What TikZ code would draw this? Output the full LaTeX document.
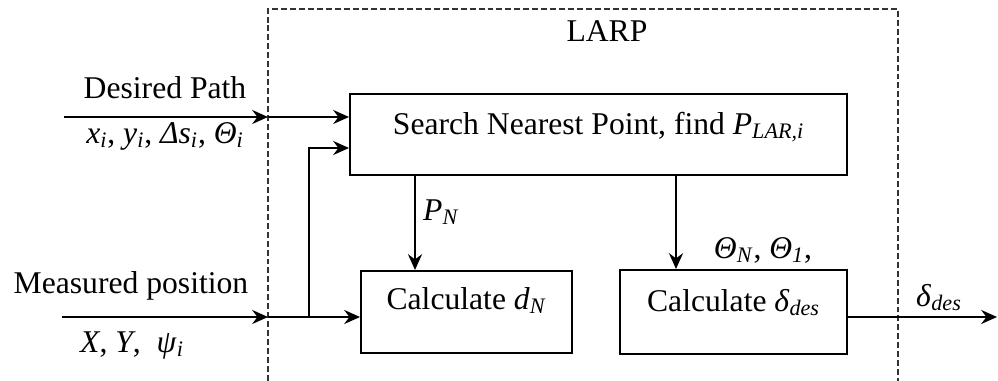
\documentclass[tikz,border=0pt]{standalone}
\usepackage{fontspec}
\setmainfont{Liberation Serif}
\usetikzlibrary{arrows.meta}
\newcommand{\vsub}[2]{\textit{#1}\textsubscript{\textit{#2}}}

\begin{document}
\begin{tikzpicture}[>={Stealth[length=9pt,width=8pt,inset=3pt]},line width=1.35pt,
 font=\fontsize{18}{22}\selectfont,
 blk/.style={draw,line width=1.2pt,inner xsep=0pt,inner ysep=0pt,anchor=north west},
 txt/.style={inner sep=0pt,anchor=base},
 larpbox/.style={draw=black!80,line width=0.6pt,dash pattern=on 3.4pt off 1.7pt}]
\useasboundingbox (0,0) rectangle (19.96,-7.62);
% LARP frame (open at the bottom)
\draw[larpbox] (5.36,-7.62) |- (17.96,-0.18) -- (17.96,-7.62);
\node[txt] (larp) at (12.14,-0.82) {LARP};
% blocks
\node[blk,minimum width=9.94cm,text height=0.8cm,text depth=0.82cm] (search) at (6.98,-1.86)
 {Search Nearest Point, find \vsub{P}{LAR,i}};
\node[blk,minimum width=4.22cm,text height=0.76cm,text depth=0.88cm] (calcd) at (7.2,-5.4)
 {Calculate \vsub{d}{N}};
\node[blk,minimum width=4.54cm,text height=0.82cm,text depth=0.86cm] (calcdes) at (12.38,-5.38)
 {Calculate \vsub{δ}{des}};
% inputs and outputs
\coordinate (dpin) at (1.28,-2.34);
\coordinate (dpb) at (5.36,-2.34);
\coordinate (mpin) at (1.24,-6.34);
\coordinate (mpb) at (5.36,-6.34);
\coordinate (jn) at (6.18,-6.34);
\coordinate (fb) at (6.18,-2.96);
\coordinate (out) at (19.94,-6.34);
\coordinate (pncol) at (8.3,0);
\coordinate (thcol) at (13.52,0);
\node[txt] (dplab) at (3.3,-1.96) {Desired Path};
\node[txt] (dpvar) at (3.3,-2.86) {\vsub{x}{i}, \vsub{y}{i}, \vsub{Δs}{i}, \vsub{Θ}{i}};
\node[txt] (mplab) at (2.62,-5.86) {Measured position};
\node[txt] (mpvar) at (2.64,-7.04) {\textit{X}, \textit{Y}, \ \vsub{ψ}{i}};
\draw[->] (dpin) -- (dpb);
\draw[->] (dpb) -- (dpb -| search.west);
\draw[->] (mpin) -- (mpb);
\draw[->] (mpb) -- (mpb -| calcd.west);
\draw[->] (jn) |- (search.west |- fb);
\draw[->] (search.south -| pncol) -- (calcd.north -| pncol);
\node[txt,anchor=base west] (pnlab) at (8.44,-4.4) {\vsub{P}{N}};
\draw[->] (search.south -| thcol) -- (calcdes.north -| thcol);
\node[txt] (thlab) at (15.26,-5.16) {\vsub{Θ}{N}, \vsub{Θ}{1},};
\draw[->] (calcdes.east |- out) -- (out);
\node[txt] (dlab) at (18.78,-6.12) {\vsub{δ}{des}};
\end{tikzpicture}
\end{document}
